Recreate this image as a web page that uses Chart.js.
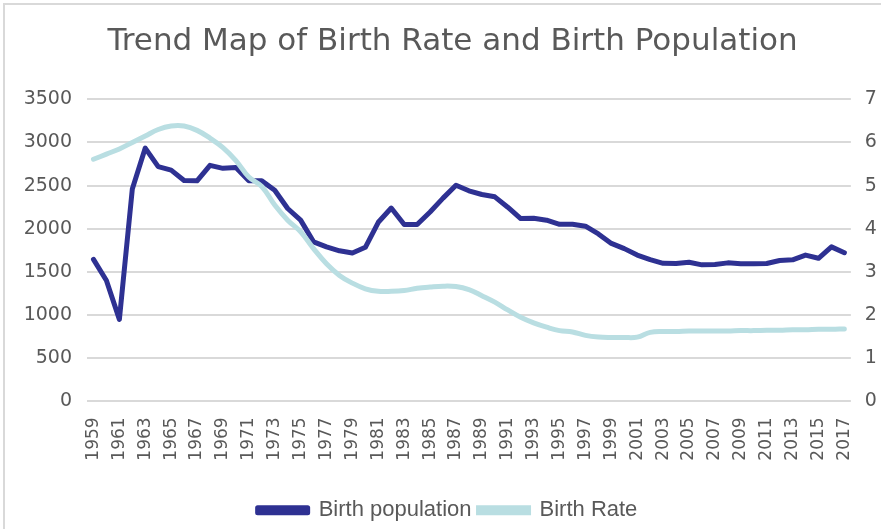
<!DOCTYPE html>
<html>
<head>
<meta charset="utf-8">
<script src="https://cdn.jsdelivr.net/npm/chart.js@4/dist/chart.umd.min.js"></script>
<style>
  html, body { margin: 0; padding: 0; background: #ffffff; }
  #wrap { position: relative; width: 881px; height: 529px; overflow: hidden; }
  #frame { position: absolute; left: 3px; top: 3px; width: 900px; height: 560px;
           border-left: 2px solid #d9d9d9; border-top: 2px solid #d9d9d9; pointer-events: none; }
  canvas { position: absolute; left: 0; top: 0; }
</style>
</head>
<body>
<div id="wrap">
  <canvas id="c" width="881" height="529"></canvas>
  <div id="frame"></div>
</div>
<script>
const years = ["1959","1960","1961","1962","1963","1964","1965","1966","1967","1968",
  "1969","1970","1971","1972","1973","1974","1975","1976","1977","1978",
  "1979","1980","1981","1982","1983","1984","1985","1986","1987","1988",
  "1989","1990","1991","1992","1993","1994","1995","1996","1997","1998",
  "1999","2000","2001","2002","2003","2004","2005","2006","2007","2008",
  "2009","2010","2011","2012","2013","2014","2015","2016","2017"];

const birthPopulation = [1645,1400,950,2460,2935,2720,2680,2560,2555,2735,
  2700,2710,2555,2555,2447,2235,2100,1848,1790,1745,
  1720,1785,2075,2240,2050,2050,2195,2355,2505,2440,
  2397,2370,2250,2118,2122,2099,2052,2052,2030,1940,
  1830,1770,1695,1642,1600,1598,1612,1582,1587,1605,
  1595,1595,1598,1632,1640,1695,1658,1790,1722];

const birthRate = [5.61,5.73,5.85,6.00,6.15,6.30,6.38,6.38,6.28,6.10,
  5.88,5.58,5.20,4.98,4.55,4.20,3.93,3.54,3.19,2.92,
  2.74,2.61,2.55,2.55,2.57,2.62,2.65,2.67,2.66,2.59,
  2.45,2.30,2.12,1.95,1.82,1.72,1.64,1.61,1.53,1.49,
  1.48,1.48,1.49,1.60,1.62,1.62,1.63,1.63,1.63,1.63,
  1.64,1.64,1.65,1.65,1.66,1.66,1.67,1.67,1.68];

const leftTicks = [0,500,1000,1500,2000,2500,3000,3500];
const rightTicks = [0,1,2,3,4,5,6,7];

const titleText = "Trend Map of Birth Rate and Birth Population";
const seriesNames = ["Birth population", "Birth Rate"];
const navy = "#2e3192";
const lightBlue = "#b9dee2";
const textGray = "#595959";
const gridGray = "#d9d9d9";

const shiftBlocks = {
  id: 'shiftBlocks',
  afterLayout(chart) {
    const t = chart.titleBlock;
    if (t) { t.left += 12; t.right += 12; }
    const l = chart.legend;
    if (l) { l.left += 7; l.right += 7; }
  }
};

new Chart(document.getElementById('c'), {
  type: 'line',
  data: {
    labels: years,
    datasets: [
      { label: seriesNames[0], data: birthPopulation, yAxisID: 'y',
        borderColor: navy, backgroundColor: navy, borderWidth: 5,
        pointRadius: 0, tension: 0, order: 1, borderJoinStyle: 'round', borderCapStyle: 'round' },
      { label: seriesNames[1], data: birthRate, yAxisID: 'y1',
        borderColor: lightBlue, backgroundColor: lightBlue, borderWidth: 5,
        pointRadius: 0, tension: 0.4, order: 0, borderCapStyle: 'round' }
    ]
  },
  options: {
    responsive: false,
    animation: false,
    devicePixelRatio: 1,
    layout: { padding: { left: 0, right: 0, top: 0, bottom: -2.2 } },
    plugins: {
      title: {
        display: true, text: titleText, color: textGray,
        font: { family: "'DejaVu Sans'", size: 31, weight: 'normal' },
        padding: { top: 23.4, bottom: 38.7 }
      },
      legend: {
        position: 'bottom',
        labels: {
          color: textGray,
          font: { family: "'Liberation Sans', Arial", size: 22 },
          boxWidth: 50, boxHeight: 5, padding: 7,
          sort: (a, b) => a.datasetIndex - b.datasetIndex
        }
      },
      tooltip: { enabled: false }
    },
    scales: {
      x: {
        type: 'category',
        offset: true,
        grid: { display: false, drawTicks: false },
        border: { display: false },
        ticks: {
          autoSkip: false, minRotation: 90, maxRotation: 90, padding: 16,
          color: textGray, font: { family: "'DejaVu Sans'", size: 17 },
          callback: function(v, i) { return i % 2 === 0 ? this.getLabelForValue(v) : null; }
        },
        afterFit(s) { s.height = 90.8; }
      },
      y: {
        position: 'left', min: 0, max: 3500,
        afterBuildTicks(s) { s.ticks = leftTicks.map(v => ({ value: v })); },
        grid: { color: gridGray, lineWidth: 2, drawTicks: false },
        border: { display: false },
        ticks: { padding: 15, color: textGray, font: { family: "'DejaVu Sans'", size: 19 },
                 callback: v => String(v) },
        afterFit(s) { s.width = 87; }
      },
      y1: {
        position: 'right', min: 0, max: 7,
        afterBuildTicks(s) { s.ticks = rightTicks.map(v => ({ value: v })); },
        grid: { display: false, drawOnChartArea: false, drawTicks: false },
        border: { display: false },
        ticks: { padding: 14, color: textGray, font: { family: "'DejaVu Sans'", size: 19 },
                 callback: v => String(v) },
        afterFit(s) { s.width = 26; }
      }
    }
  },
  plugins: [shiftBlocks]
});
</script>
</body>
</html>
